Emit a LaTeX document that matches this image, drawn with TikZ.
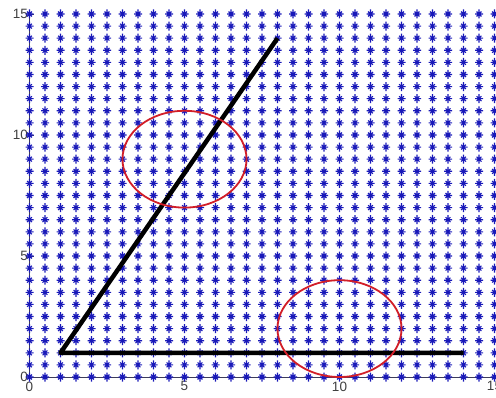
\documentclass[tikz,border=0pt]{standalone}
\usepackage{fontspec}
\setmainfont{Liberation Sans}
\definecolor{mkblue}{RGB}{25,25,185}
\definecolor{crcred}{RGB}{210,30,40}
\definecolor{axgray}{RGB}{60,60,90}
\begin{document}
\begin{tikzpicture}[x=31pt,y=24.2pt,
  mstar/.pic={\draw[mkblue,line width=1.1pt]
      (-4pt,0)--(4pt,0) (0,-4.5pt)--(0,4.5pt)
      (-2.4pt,-2.4pt)--(2.4pt,2.4pt) (-2.4pt,2.4pt)--(2.4pt,-2.4pt);},
  axisline/.style={axgray,line width=0.8pt},
  ticklbl/.style={text=black!75,font=\fontsize{13.5}{13.5}\selectfont,inner sep=1.5pt},
  dataline/.style={black,line width=4.5pt},
  ring/.style={crcred,line width=1.8pt}]
\useasboundingbox[fill=white] (-29.5pt,-20pt) rectangle (466.5pt,377pt);
% axes
\coordinate (o) at (0,0);
\coordinate (ytop) at (0,15);
\coordinate (xend) at (15,0);
\draw[axisline] (ytop) -- (o) -- (xend);
\foreach \v in {0,5,10,15}{
  \draw[axisline] (\v,0) -- ++(0,4pt);
  \draw[axisline] (0,\v) -- ++(4pt,0);
  \node[ticklbl,anchor=north,yshift=-3pt] (xl\v) at (\v,0) {\v};
  \node[ticklbl,anchor=east] (yl\v) at (0,\v) {\v};
}
% marker grid
\foreach \i in {0,...,30}{\foreach \j in {0,...,30}{\pic at (\i/2,\j/2) {mstar};}}
% data
\coordinate (p0) at (1,1);
\coordinate (p1) at (8,14);
\coordinate (p2) at (14,1);
\draw[dataline,line join=round] (p1) -- (p0) -- (p2);
\coordinate (c1) at (5,9);
\coordinate (c2) at (10,2);
\draw[ring] (c1) ellipse [x radius=62pt, y radius=48.4pt];
\draw[ring] (c2) ellipse [x radius=62pt, y radius=48.4pt];
\end{tikzpicture}
\end{document}
